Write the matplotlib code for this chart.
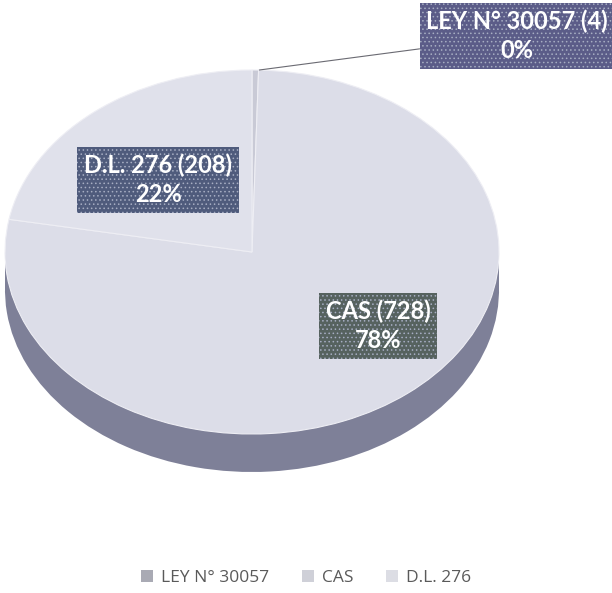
import matplotlib
matplotlib.use("Agg")
import matplotlib.pyplot as plt
from matplotlib.patches import Rectangle

categories = ["LEY N° 30057", "CAS", "D.L. 276"]
counts = [4, 728, 208]
percents = ["0%", "78%", "22%"]

top_colors = ["#c9cad6", "#dcdde8", "#e0e1eb"]
side_color = "#7e8098"
legend_colors = ["#a9aab4", "#cfd0d8", "#dcdde4"]
box_colors = ["#5b5c88", "#56625f", "#4f5b7c"]

W, H = 612, 593
fig = plt.figure(figsize=(W / 100, H / 100), dpi=100)
ax = fig.add_axes([0, 0, 1, 1])

# ellipse geometry (pixels)
cx, cy, a, b = 252, 252, 247, 182
depth = 38 / b

# side of the cylinder
side_wedges, _ = ax.pie(counts, radius=1, center=(0, -depth), startangle=90,
                        counterclock=False, colors=[side_color] * 3,
                        wedgeprops=dict(linewidth=0))
ax.add_patch(Rectangle((-1, -depth), 2, depth, facecolor=side_color,
                       linewidth=0, zorder=1))
for w in side_wedges:
    w.set_zorder(1)

wedges, _ = ax.pie(counts, radius=1, center=(0, 0), startangle=90,
                   counterclock=False, colors=top_colors,
                   wedgeprops=dict(linewidth=0.8, edgecolor="#eeeef4"))
for w in wedges:
    w.set_zorder(2)

ax.set_aspect("auto")
ax.set_xlim(-cx / a, (W - cx) / a)
ax.set_ylim((cy - H) / b, cy / b)
ax.axis("off")

plt.rcParams["hatch.color"] = "#9aa2b8"
plt.rcParams["hatch.linewidth"] = 0.6

def fx(px):
    return px / W

def fy(py):
    return 1 - py / H

label_pos = [(517, 36), (378, 326), (158, 180)]
for i, (lab, n, p) in enumerate(zip(categories, counts, percents)):
    txt = f"{lab} ({n})\n{p}"
    x, y = label_pos[i]
    bbox = dict(boxstyle="square,pad=0.28", facecolor=box_colors[i],
                edgecolor="#a6adc2", linewidth=0, hatch="....")
    kw = dict(ha="center", va="center", fontsize=17, fontweight="bold",
              family="Lato", color="white", linespacing=1.3, bbox=bbox,
              zorder=5)
    if i == 0:
        ax.annotate(txt, xy=(0.03, 1.0), xycoords="data",
                    xytext=(fx(x), fy(y)), textcoords="figure fraction",
                    arrowprops=dict(arrowstyle="-", color="#6a6a72", lw=0.8,
                                    shrinkA=0, shrinkB=0), **kw)
    else:
        fig.text(fx(x), fy(y), txt, **kw)

handles = [Rectangle((0, 0), 1, 1, facecolor=c, edgecolor="none")
           for c in legend_colors]
fig.legend(handles, categories, loc="center", bbox_to_anchor=(0.5, fy(578)),
           ncol=3, frameon=False, handlelength=0.7,
           handleheight=0.7, handletextpad=0.45, columnspacing=1.9,
           labelcolor="#5a5a5a", prop=dict(family="Open Sans", size=12.5))

fig.savefig("out.png", dpi=100, facecolor="white")
